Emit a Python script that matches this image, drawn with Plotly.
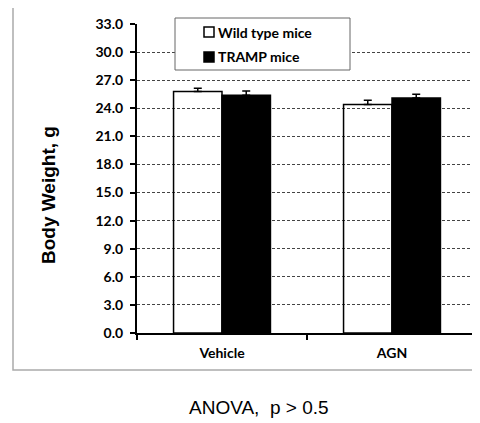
import plotly.graph_objects as go

categories = ["Vehicle", "AGN"]
wild_type = [25.8, 24.4]
wild_type_err = [0.35, 0.45]
tramp = [25.4, 25.1]
tramp_err = [0.45, 0.4]
y_ticks = [0, 3, 6, 9, 12, 15, 18, 21, 24, 27, 30, 33]

OFF = 8  # body margin of the html page
W, H = 480 - OFF, 423 - OFF
L, R, T, B = 137 - OFF, 3, 24 - OFF, 90
pw, ph = W - L - R, H - T - B

def px(x):
    return (x - OFF - L) / pw

def py(y):
    return (H - B - (y - OFF)) / ph

fig = go.Figure()
fig.add_trace(go.Bar(
    x=categories, y=wild_type, name="Wild type mice",
    marker=dict(color="rgba(0,0,0,0)", line=dict(color="black", width=1.5)),
    error_y=dict(type="data", array=wild_type_err, arrayminus=[0, 0], symmetric=False,
                 color="black", thickness=1.5, width=4),
    showlegend=False,
))
fig.add_trace(go.Bar(
    x=categories, y=tramp, name="TRAMP mice",
    marker=dict(color="black", line=dict(color="black", width=1.5)),
    error_y=dict(type="data", array=tramp_err, arrayminus=[0, 0], symmetric=False,
                 color="black", thickness=1.5, width=4),
    showlegend=False,
))

font_bold = "Lato"

fig.update_layout(
    width=W, height=H,
    margin=dict(l=L, r=R, t=T, b=B),
    paper_bgcolor="white", plot_bgcolor="white",
    barmode="group", bargap=0.43, bargroupgap=0,
    xaxis=dict(
        showline=True, linecolor="black", linewidth=2,
        ticks="outside", tickson="boundaries", ticklen=5, tickwidth=1.5, tickcolor="black",
        tickfont=dict(family=font_bold, size=14, color="black", weight="bold"),
        ticklabelstandoff=6,
        showgrid=False, fixedrange=True,
    ),
    yaxis=dict(
        range=[0, 33], tickvals=y_ticks, tickformat=".1f",
        showline=True, linecolor="black", linewidth=2,
        ticks="outside", ticklen=5, tickwidth=1.5, tickcolor="black",
        tickfont=dict(family=font_bold, size=14, color="black", weight="bold"),
        ticklabelstandoff=4,
        showgrid=True, gridcolor="#444", gridwidth=1, griddash="3px,2px",
        zeroline=False,
    ),
    font=dict(family="Liberation Sans", color="black"),
)

shapes = [
    # outer frame
    dict(type="rect", xref="paper", yref="paper", x0=px(13), x1=px(479), y0=py(370), y1=py(7),
         line=dict(color="#aaaaaa", width=1.5), fillcolor="rgba(0,0,0,0)", layer="below"),
    # legend box
    dict(type="rect", xref="paper", yref="paper", x0=px(175), x1=px(350), y0=py(70), y1=py(18),
         line=dict(color="#666666", width=1), fillcolor="white", layer="above"),
    # legend symbols
    dict(type="rect", xref="paper", yref="paper", x0=px(204), x1=px(214), y0=py(37), y1=py(27),
         line=dict(color="black", width=1.5), fillcolor="white", layer="above"),
    dict(type="rect", xref="paper", yref="paper", x0=px(204), x1=px(214), y0=py(62), y1=py(52),
         line=dict(color="black", width=1.5), fillcolor="black", layer="above"),
]
fig.update_layout(shapes=shapes)

fig.add_annotation(x=px(216), y=py(32), xref="paper", yref="paper", text="<b>Wild type mice</b>",
                   showarrow=False, xanchor="left", yanchor="middle",
                   font=dict(family=font_bold, size=14, color="black"))
fig.add_annotation(x=px(216), y=py(57), xref="paper", yref="paper", text="<b>TRAMP mice</b>",
                   showarrow=False, xanchor="left", yanchor="middle",
                   font=dict(family=font_bold, size=14, color="black"))
fig.add_annotation(x=px(48), y=py(195), xref="paper", yref="paper", text="<b>Body Weight, g</b>",
                   showarrow=False, textangle=-90, xanchor="center", yanchor="middle",
                   font=dict(family="Liberation Sans", size=19, color="black"))
fig.add_annotation(x=px(259), y=py(407), xref="paper", yref="paper", text="ANOVA,  p > 0.5",
                   showarrow=False, xanchor="center", yanchor="middle",
                   font=dict(family="Liberation Sans", size=19, color="black"))

fig.write_html("out.html")
